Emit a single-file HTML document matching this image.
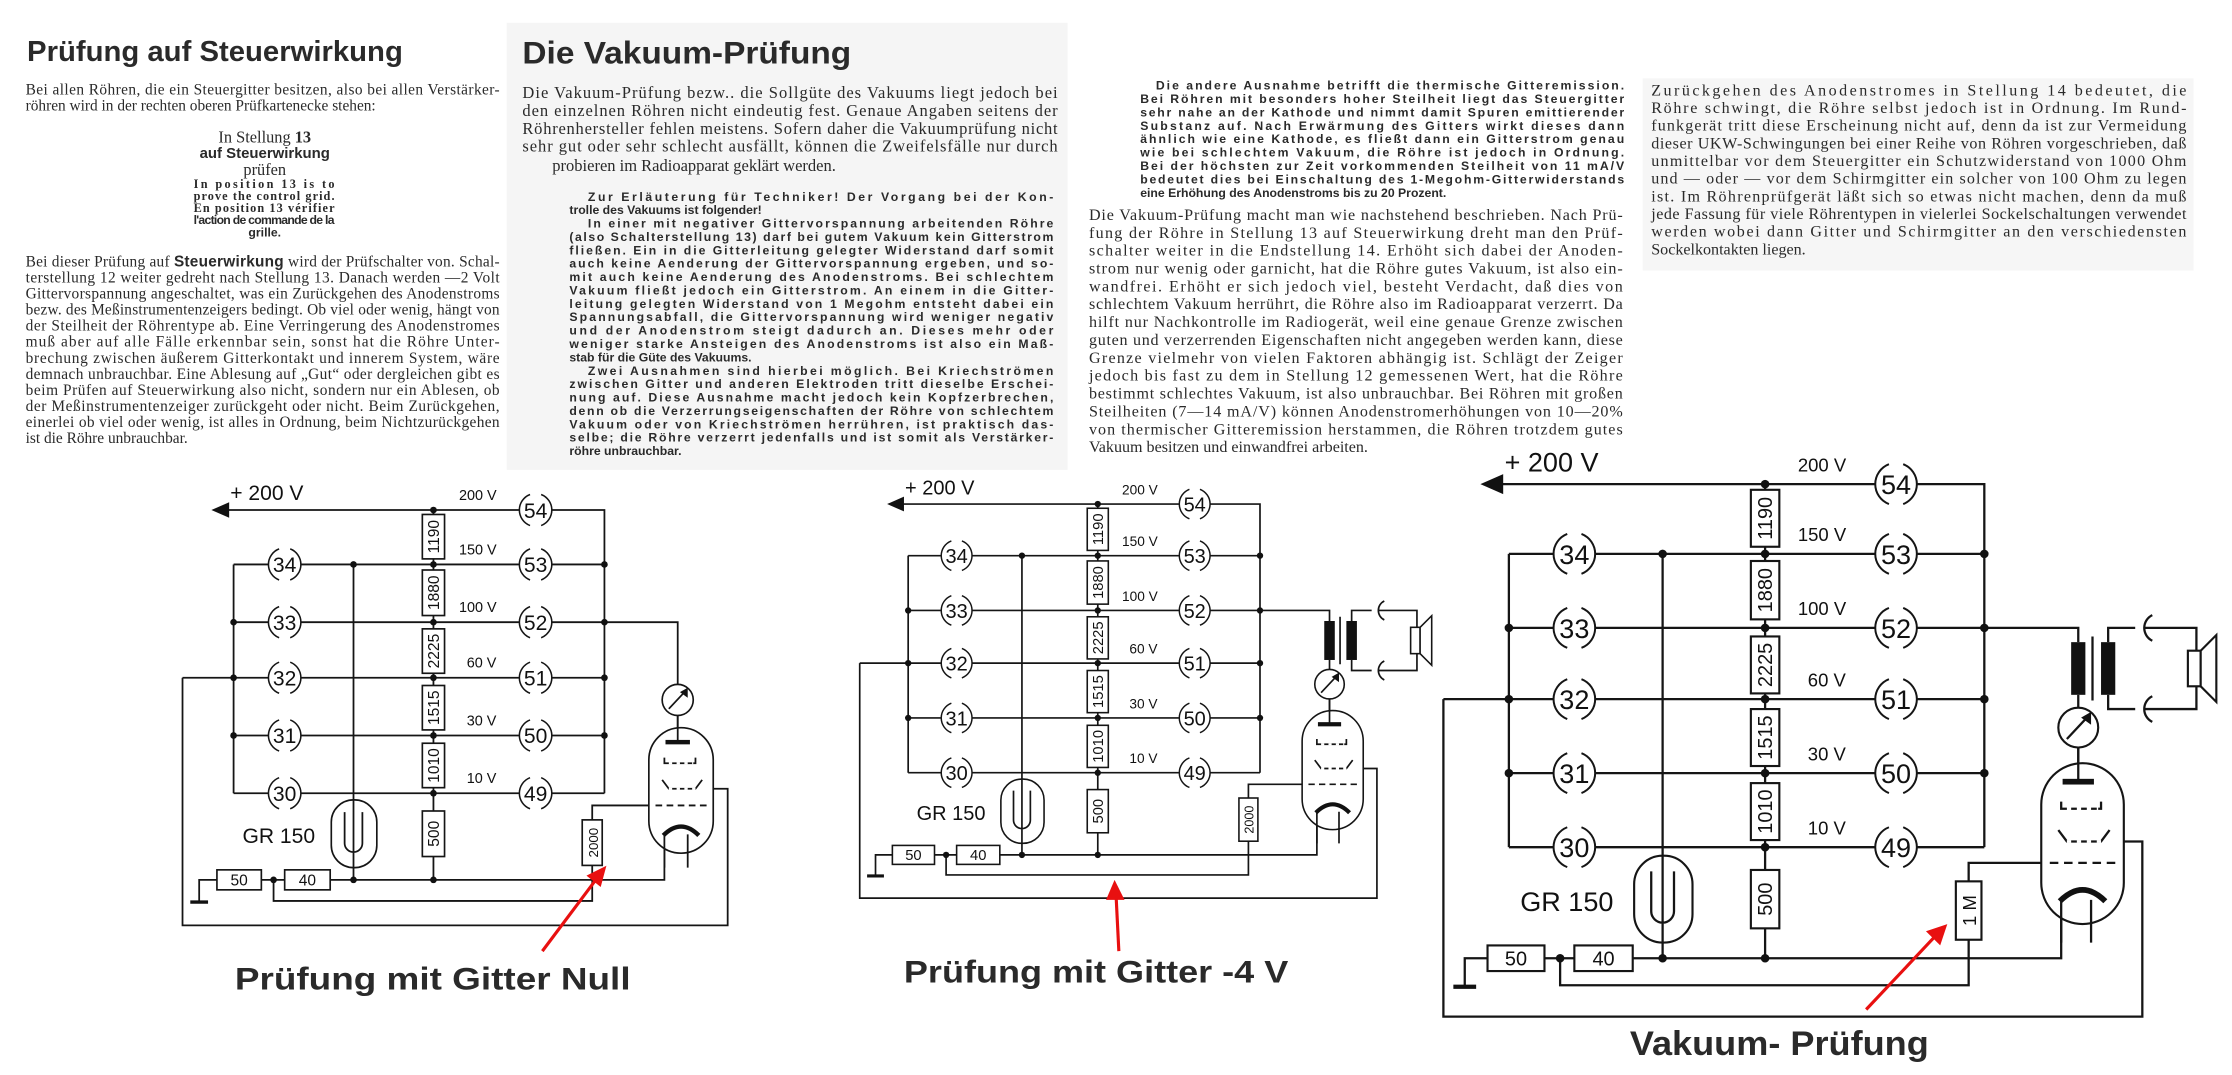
<!DOCTYPE html>
<html><head><meta charset="utf-8"><style>
html,body{margin:0;padding:0;background:#fff;}
svg{display:block}
.w{fill:none;stroke:#151515;stroke-width:1.6}
.n{fill:none;stroke:#151515;stroke-width:1.4}
.sr{font-family:"Liberation Serif",serif;fill:#2a2a2a}
.sb{font-family:"Liberation Sans",sans-serif;font-weight:bold;fill:#2a2a2a}
.lb{font-family:"Liberation Sans",sans-serif;fill:#111}
</style></head><body>
<svg width="2232" height="1075" viewBox="0 0 1568 755" preserveAspectRatio="none" xmlns="http://www.w3.org/2000/svg">
<rect x="0" y="0" width="1568" height="755" fill="#fff"/>
<rect x="356" y="16" width="394" height="314" fill="#f5f5f5"/>
<rect x="1154" y="55" width="387" height="135" fill="#f6f6f6"/>

<!-- Column 1 -->
<text class="sb" x="19" y="43" font-size="20" textLength="264" lengthAdjust="spacingAndGlyphs" fill="#333">Prüfung auf Steuerwirkung</text>
<g class="sr" font-size="10.8">
<text x="18" y="66.5" textLength="333" lengthAdjust="spacing">Bei allen Röhren, die ein Steuergitter besitzen, also bei allen Verstärker-</text>
<text x="18" y="77.5">röhren wird in der rechten oberen Prüfkartenecke stehen:</text>
</g>
<g text-anchor="middle">
<text class="sr" x="186" y="100" font-size="11.5">In Stellung <tspan font-weight="bold">13</tspan></text>
<text class="sb" x="186" y="111" font-size="10.5">auf Steuerwirkung</text>
<text class="sr" x="186" y="123" font-size="11.5">prüfen</text>
</g>
<g class="sr" font-size="8.6" font-weight="bold">
<text x="136" y="132" textLength="99" lengthAdjust="spacing">In position 13 is to</text>
<text x="136" y="140.5" textLength="99" lengthAdjust="spacing">prove the control grid.</text>
<text x="136" y="149" textLength="99" lengthAdjust="spacing">En position 13 vérifier</text>
<text x="136" y="157.5" textLength="99" lengthAdjust="spacing" font-family="Liberation Sans">l'action de commande de la</text>
<text x="186" y="166" text-anchor="middle" font-family="Liberation Sans">grille.</text>
</g>
<g class="sr" font-size="10.8">
<text x="18" y="187" textLength="333" lengthAdjust="spacing">Bei dieser Prüfung auf <tspan class="sb">Steuerwirkung</tspan> wird der Prüfschalter von. Schal-</text>
<text x="18" y="198.3" textLength="333" lengthAdjust="spacing">terstellung 12 weiter gedreht nach Stellung 13. Danach werden —2 Volt</text>
<text x="18" y="209.6" textLength="333" lengthAdjust="spacing">Gittervorspannung angeschaltet, was ein Zurückgehen des Anodenstroms</text>
<text x="18" y="220.9" textLength="333" lengthAdjust="spacing">bezw. des Meßinstrumentenzeigers bedingt. Ob viel oder wenig, hängt von</text>
<text x="18" y="232.2" textLength="333" lengthAdjust="spacing">der Steilheit der Röhrentype ab. Eine Verringerung des Anodenstromes</text>
<text x="18" y="243.5" textLength="333" lengthAdjust="spacing">muß aber auf alle Fälle erkennbar sein, sonst hat die Röhre Unter-</text>
<text x="18" y="254.8" textLength="333" lengthAdjust="spacing">brechung zwischen äußerem Gitterkontakt und innerem System, wäre</text>
<text x="18" y="266.1" textLength="333" lengthAdjust="spacing">demnach unbrauchbar. Eine Ablesung auf „Gut“ oder dergleichen gibt es</text>
<text x="18" y="277.4" textLength="333" lengthAdjust="spacing">beim Prüfen auf Steuerwirkung also nicht, sondern nur ein Ablesen, ob</text>
<text x="18" y="288.7" textLength="333" lengthAdjust="spacing">der Meßinstrumentenzeiger zurückgeht oder nicht. Beim Zurückgehen,</text>
<text x="18" y="300" textLength="333" lengthAdjust="spacing">einerlei ob viel oder wenig, ist alles in Ordnung, beim Nichtzurückgehen</text>
<text x="18" y="311.3">ist die Röhre unbrauchbar.</text>
</g>

<!-- Column 2 -->
<text class="sb" x="367" y="44.5" font-size="22" textLength="231" lengthAdjust="spacingAndGlyphs" fill="#333">Die Vakuum-Prüfung</text>
<g class="sr" font-size="11.6">
<text x="367" y="69" textLength="376" lengthAdjust="spacing">Die Vakuum-Prüfung bezw.. die Sollgüte des Vakuums liegt jedoch bei</text>
<text x="367" y="81.5" textLength="376" lengthAdjust="spacing">den einzelnen Röhren nicht eindeutig fest. Genaue Angaben seitens der</text>
<text x="367" y="94" textLength="376" lengthAdjust="spacing">Röhrenhersteller fehlen meistens. Sofern daher die Vakuumprüfung nicht</text>
<text x="367" y="106.5" textLength="376" lengthAdjust="spacing">sehr gut oder sehr schlecht ausfällt, können die Zweifelsfälle nur durch</text>
<text x="388" y="120">probieren im Radioapparat geklärt werden.</text>
</g>
<g class="sb" font-size="8.6">
<text x="413" y="141" textLength="327" lengthAdjust="spacing">Zur Erläuterung für Techniker! Der Vorgang bei der Kon-</text>
<text x="400" y="150.4">trolle des Vakuums ist folgender!</text>
<text x="413" y="159.8" textLength="327" lengthAdjust="spacing">In einer mit negativer Gittervorspannung arbeitenden Röhre</text>
<text x="400" y="169.2" textLength="340" lengthAdjust="spacing">(also Schalterstellung 13) darf bei gutem Vakuum kein Gitterstrom</text>
<text x="400" y="178.6" textLength="340" lengthAdjust="spacing">fließen. Ein in die Gitterleitung gelegter Widerstand darf somit</text>
<text x="400" y="188" textLength="340" lengthAdjust="spacing">auch keine Aenderung der Gittervorspannung ergeben, und so-</text>
<text x="400" y="197.4" textLength="340" lengthAdjust="spacing">mit auch keine Aenderung des Anodenstroms. Bei schlechtem</text>
<text x="400" y="206.8" textLength="340" lengthAdjust="spacing">Vakuum fließt jedoch ein Gitterstrom. An einem in die Gitter-</text>
<text x="400" y="216.2" textLength="340" lengthAdjust="spacing">leitung gelegten Widerstand von 1 Megohm entsteht dabei ein</text>
<text x="400" y="225.6" textLength="340" lengthAdjust="spacing">Spannungsabfall, die Gittervorspannung wird weniger negativ</text>
<text x="400" y="235" textLength="340" lengthAdjust="spacing">und der Anodenstrom steigt dadurch an. Dieses mehr oder</text>
<text x="400" y="244.4" textLength="340" lengthAdjust="spacing">weniger starke Ansteigen des Anodenstroms ist also ein Maß-</text>
<text x="400" y="253.8">stab für die Güte des Vakuums.</text>
<text x="413" y="263.2" textLength="327" lengthAdjust="spacing">Zwei Ausnahmen sind hierbei möglich. Bei Kriechströmen</text>
<text x="400" y="272.6" textLength="340" lengthAdjust="spacing">zwischen Gitter und anderen Elektroden tritt dieselbe Erschei-</text>
<text x="400" y="282" textLength="340" lengthAdjust="spacing">nung auf. Diese Ausnahme macht jedoch kein Kopfzerbrechen,</text>
<text x="400" y="291.4" textLength="340" lengthAdjust="spacing">denn ob die Verzerrungseigenschaften der Röhre von schlechtem</text>
<text x="400" y="300.8" textLength="340" lengthAdjust="spacing">Vakuum oder von Kriechströmen herrühren, ist praktisch das-</text>
<text x="400" y="310.2" textLength="340" lengthAdjust="spacing">selbe; die Röhre verzerrt jedenfalls und ist somit als Verstärker-</text>
<text x="400" y="319.6">röhre unbrauchbar.</text>
</g>

<!-- Column 3 -->
<g class="sb" font-size="8.6">
<text x="812" y="63" textLength="329" lengthAdjust="spacing">Die andere Ausnahme betrifft die thermische Gitteremission.</text>
<text x="801" y="72.4" textLength="340" lengthAdjust="spacing">Bei Röhren mit besonders hoher Steilheit liegt das Steuergitter</text>
<text x="801" y="81.8" textLength="340" lengthAdjust="spacing">sehr nahe an der Kathode und nimmt damit Spuren emittierender</text>
<text x="801" y="91.2" textLength="340" lengthAdjust="spacing">Substanz auf. Nach Erwärmung des Gitters wirkt dieses dann</text>
<text x="801" y="100.6" textLength="340" lengthAdjust="spacing">ähnlich wie eine Kathode, es fließt dann ein Gitterstrom genau</text>
<text x="801" y="110" textLength="340" lengthAdjust="spacing">wie bei schlechtem Vakuum, die Röhre ist jedoch in Ordnung.</text>
<text x="801" y="119.4" textLength="340" lengthAdjust="spacing">Bei der höchsten zur Zeit vorkommenden Steilheit von 11 mA/V</text>
<text x="801" y="128.8" textLength="340" lengthAdjust="spacing">bedeutet dies bei Einschaltung des 1-Megohm-Gitterwiderstands</text>
<text x="801" y="138.2">eine Erhöhung des Anodenstroms bis zu 20 Prozent.</text>
</g>
<g class="sr" font-size="11.3">
<text x="765" y="154.5" textLength="375" lengthAdjust="spacing">Die Vakuum-Prüfung macht man wie nachstehend beschrieben. Nach Prü-</text>
<text x="765" y="167" textLength="375" lengthAdjust="spacing">fung der Röhre in Stellung 13 auf Steuerwirkung dreht man den Prüf-</text>
<text x="765" y="179.6" textLength="375" lengthAdjust="spacing">schalter weiter in die Endstellung 14. Erhöht sich dabei der Anoden-</text>
<text x="765" y="192.1" textLength="375" lengthAdjust="spacing">strom nur wenig oder garnicht, hat die Röhre gutes Vakuum, ist also ein-</text>
<text x="765" y="204.7" textLength="375" lengthAdjust="spacing">wandfrei. Erhöht er sich jedoch viel, besteht Verdacht, daß dies von</text>
<text x="765" y="217.2" textLength="375" lengthAdjust="spacing">schlechtem Vakuum herrührt, die Röhre also im Radioapparat verzerrt. Da</text>
<text x="765" y="229.7" textLength="375" lengthAdjust="spacing">hilft nur Nachkontrolle im Radiogerät, weil eine genaue Grenze zwischen</text>
<text x="765" y="242.3" textLength="375" lengthAdjust="spacing">guten und verzerrenden Eigenschaften nicht angegeben werden kann, diese</text>
<text x="765" y="254.8" textLength="375" lengthAdjust="spacing">Grenze vielmehr von vielen Faktoren abhängig ist. Schlägt der Zeiger</text>
<text x="765" y="267.4" textLength="375" lengthAdjust="spacing">jedoch bis fast zu dem in Stellung 12 gemessenen Wert, hat die Röhre</text>
<text x="765" y="279.9" textLength="375" lengthAdjust="spacing">bestimmt schlechtes Vakuum, ist also unbrauchbar. Bei Röhren mit großen</text>
<text x="765" y="292.4" textLength="375" lengthAdjust="spacing">Steilheiten (7—14 mA/V) können Anodenstromerhöhungen von 10—20%</text>
<text x="765" y="305" textLength="375" lengthAdjust="spacing">von thermischer Gitteremission herstammen, die Röhren trotzdem gutes</text>
<text x="765" y="317.5">Vakuum besitzen und einwandfrei arbeiten.</text>
</g>

<!-- Column 4 -->
<g class="sr" font-size="11.3">
<text x="1160" y="67" textLength="376" lengthAdjust="spacing">Zurückgehen des Anodenstromes in Stellung 14 bedeutet, die</text>
<text x="1160" y="79.4" textLength="376" lengthAdjust="spacing">Röhre schwingt, die Röhre selbst jedoch ist in Ordnung. Im Rund-</text>
<text x="1160" y="91.8" textLength="376" lengthAdjust="spacing">funkgerät tritt diese Erscheinung nicht auf, denn da ist zur Vermeidung</text>
<text x="1160" y="104.2" textLength="376" lengthAdjust="spacing">dieser UKW-Schwingungen bei einer Reihe von Röhren vorgeschrieben, daß</text>
<text x="1160" y="116.6" textLength="376" lengthAdjust="spacing">unmittelbar vor dem Steuergitter ein Schutzwiderstand von 1000 Ohm</text>
<text x="1160" y="129" textLength="376" lengthAdjust="spacing">und — oder — vor dem Schirmgitter ein solcher von 100 Ohm zu legen</text>
<text x="1160" y="141.4" textLength="376" lengthAdjust="spacing">ist. Im Röhrenprüfgerät läßt sich so etwas nicht machen, denn da muß</text>
<text x="1160" y="153.8" textLength="376" lengthAdjust="spacing">jede Fassung für viele Röhrentypen in vielerlei Sockelschaltungen verwendet</text>
<text x="1160" y="166.2" textLength="376" lengthAdjust="spacing">werden wobei dann Gitter und Schirmgitter an den verschiedensten</text>
<text x="1160" y="178.6">Sockelkontakten liegen.</text>
</g>

<!-- ===== Schematic 1 ===== -->
<g transform="translate(-662.7,93) scale(0.78)">
<path class="w" d="M1042 340H1317 M1347 340H1394V595 M1060 389V595 M1060 389H1091 M1121 389H1317 M1347 389H1394 M1060 441H1091 M1121 441H1317 M1347 441H1394 M1014 491H1091 M1121 491H1317 M1347 491H1394 M1060 543H1091 M1121 543H1317 M1347 543H1394 M1060 595H1091 M1121 595H1317 M1347 595H1394 M1168 389V673 M1240 340V673 M1029 693V673H1045 M1085 673H1106 M1147 673H1448V630 M1096 673V692H1383V660 M1383 619V606H1440 M1014 491V714H1505V591H1480 M1394 441H1460V497 M1460 525V549"/>
<path d="M1021 693H1037" stroke="#111" stroke-width="3"/>
<path class="n" d="M1327 326A15 15 0 0 0 1327 354M1337 326A15 15 0 0 1 1337 354M1327 375A15 15 0 0 0 1327 403M1337 375A15 15 0 0 1 1337 403M1327 427A15 15 0 0 0 1327 455M1337 427A15 15 0 0 1 1337 455M1327 477A15 15 0 0 0 1327 505M1337 477A15 15 0 0 1 1337 505M1327 529A15 15 0 0 0 1327 557M1337 529A15 15 0 0 1 1337 557M1327 581A15 15 0 0 0 1327 609M1337 581A15 15 0 0 1 1337 609M1101 375A15 15 0 0 0 1101 403M1111 375A15 15 0 0 1 1111 403M1101 427A15 15 0 0 0 1101 455M1111 427A15 15 0 0 1 1111 455M1101 477A15 15 0 0 0 1101 505M1111 477A15 15 0 0 1 1111 505M1101 529A15 15 0 0 0 1101 557M1111 529A15 15 0 0 1 1111 557M1101 581A15 15 0 0 0 1101 609M1111 581A15 15 0 0 1 1111 609"/>
<g class="lb" font-size="19" text-anchor="middle"><text x="1332" y="347">54</text><text x="1332" y="396">53</text><text x="1332" y="448">52</text><text x="1332" y="498">51</text><text x="1332" y="550">50</text><text x="1332" y="602">49</text><text x="1106" y="396">34</text><text x="1106" y="448">33</text><text x="1106" y="498">32</text><text x="1106" y="550">31</text><text x="1106" y="602">30</text></g>
<g class="lb" font-size="13"><text x="1263" y="331">200 V</text><text x="1263" y="380">150 V</text><text x="1263" y="432">100 V</text><text x="1270" y="482">60 V</text><text x="1270" y="534">30 V</text><text x="1270" y="586">10 V</text></g>
<text class="lb" x="1057" y="331" font-size="19">+ 200 V</text>
<polygon points="1040,340 1056,333 1056,347" fill="#111"/>
<g fill="#fff" stroke="#151515" stroke-width="1.5"><rect x="1230" y="344" width="20" height="40"/><rect x="1230" y="394" width="20" height="41"/><rect x="1230" y="447" width="20" height="40"/><rect x="1230" y="498" width="20" height="40"/><rect x="1230" y="550" width="20" height="40"/><rect x="1230" y="611" width="20" height="41"/><rect x="1045" y="664" width="40" height="18"/><rect x="1106" y="664" width="41" height="18"/><rect x="1374" y="619" width="18" height="41"/><rect x="1148" y="601" width="41" height="61" rx="20"/><rect x="1434" y="536" width="58" height="113" rx="29"/><circle cx="1460" cy="511" r="14"/></g>
<g class="lb" font-size="14" text-anchor="middle"><text transform="translate(1245,364) rotate(-90)">1190</text><text transform="translate(1245,414.5) rotate(-90)">1880</text><text transform="translate(1245,467) rotate(-90)">2225</text><text transform="translate(1245,518) rotate(-90)">1515</text><text transform="translate(1245,570) rotate(-90)">1010</text><text transform="translate(1245,631.5) rotate(-90)">500</text><text x="1065" y="678">50</text><text x="1126.5" y="678">40</text><text transform="translate(1388,639.5) rotate(-90)" font-size="12">2000</text></g>
<text class="lb" x="1068" y="640" font-size="19">GR 150</text>
<path class="w" d="M1160 612V640A8 8 0 0 0 1176 640V612 M1168 601V662 M1446 583L1452 591H1476L1482 583 M1448 563V568H1476V563"/>
<path d="M1452 568H1474 M1452 591H1476 M1440 606H1486" stroke="#fff" stroke-width="2" stroke-dasharray="3 4"/>
<path d="M1440 606H1486" stroke="#151515" stroke-width="1.6" stroke-dasharray="6 4"/>
<path d="M1447 633Q1463 617 1479 633" fill="none" stroke="#111" stroke-width="4"/>
<path class="w" d="M1448 632V662 M1469 632V662 M1460 525V549 M1452 519L1467 503"/>
<rect x="1449" y="547" width="22" height="4" fill="#111"/>
<polygon points="1469,500 1469,509 1462,504" fill="#111"/>
<g fill="#111"><circle cx="1240" cy="340" r="3"/><circle cx="1168" cy="389" r="3"/><circle cx="1240" cy="389" r="3"/><circle cx="1394" cy="389" r="3"/><circle cx="1060" cy="441" r="3"/><circle cx="1240" cy="441" r="3"/><circle cx="1394" cy="441" r="3"/><circle cx="1060" cy="491" r="3"/><circle cx="1240" cy="491" r="3"/><circle cx="1394" cy="491" r="3"/><circle cx="1060" cy="543" r="3"/><circle cx="1240" cy="543" r="3"/><circle cx="1394" cy="543" r="3"/><circle cx="1240" cy="595" r="3"/><circle cx="1096" cy="673" r="3"/><circle cx="1168" cy="673" r="3"/><circle cx="1240" cy="673" r="3"/></g>
</g>

<!-- ===== Schematic 2 ===== -->
<g transform="translate(-146.4,102.4) scale(0.74)">
<path class="w" d="M1042 340H1317 M1347 340H1394V595 M1060 389V595 M1060 389H1091 M1121 389H1317 M1347 389H1394 M1060 441H1091 M1121 441H1317 M1347 441H1394 M1014 491H1091 M1121 491H1317 M1347 491H1394 M1060 543H1091 M1121 543H1317 M1347 543H1394 M1060 595H1091 M1121 595H1317 M1347 595H1394 M1168 389V673 M1240 340V673 M1029 693V673H1045 M1085 673H1106 M1147 673H1448V630 M1096 673V692H1383V660 M1383 619V606H1440 M1014 491V714H1505V591H1480 M1394 441H1460V451 M1460 488V497 M1460 525V549 M1470 447V492 M1481 451V441H1500 M1481 488V498H1500 M1506 441H1543V457 M1506 498H1543V482"/>
<path class="w" d="M1512 432A10 10 0 0 0 1512 450 M1512 489A10 10 0 0 0 1512 507"/>
<rect x="1537" y="457" width="9" height="25" fill="#fff" stroke="#151515" stroke-width="1.5"/>
<polygon points="1546,457 1557,446 1557,493 1546,482" fill="#fff" stroke="#151515" stroke-width="1.5"/>
<rect x="1455" y="451" width="10" height="37" fill="#111"/><rect x="1476" y="451" width="10" height="37" fill="#111"/>
<path d="M1021 693H1037" stroke="#111" stroke-width="3"/>
<path class="n" d="M1327 326A15 15 0 0 0 1327 354M1337 326A15 15 0 0 1 1337 354M1327 375A15 15 0 0 0 1327 403M1337 375A15 15 0 0 1 1337 403M1327 427A15 15 0 0 0 1327 455M1337 427A15 15 0 0 1 1337 455M1327 477A15 15 0 0 0 1327 505M1337 477A15 15 0 0 1 1337 505M1327 529A15 15 0 0 0 1327 557M1337 529A15 15 0 0 1 1337 557M1327 581A15 15 0 0 0 1327 609M1337 581A15 15 0 0 1 1337 609M1101 375A15 15 0 0 0 1101 403M1111 375A15 15 0 0 1 1111 403M1101 427A15 15 0 0 0 1101 455M1111 427A15 15 0 0 1 1111 455M1101 477A15 15 0 0 0 1101 505M1111 477A15 15 0 0 1 1111 505M1101 529A15 15 0 0 0 1101 557M1111 529A15 15 0 0 1 1111 557M1101 581A15 15 0 0 0 1101 609M1111 581A15 15 0 0 1 1111 609"/>
<g class="lb" font-size="19" text-anchor="middle"><text x="1332" y="347">54</text><text x="1332" y="396">53</text><text x="1332" y="448">52</text><text x="1332" y="498">51</text><text x="1332" y="550">50</text><text x="1332" y="602">49</text><text x="1106" y="396">34</text><text x="1106" y="448">33</text><text x="1106" y="498">32</text><text x="1106" y="550">31</text><text x="1106" y="602">30</text></g>
<g class="lb" font-size="13"><text x="1263" y="331">200 V</text><text x="1263" y="380">150 V</text><text x="1263" y="432">100 V</text><text x="1270" y="482">60 V</text><text x="1270" y="534">30 V</text><text x="1270" y="586">10 V</text></g>
<text class="lb" x="1057" y="331" font-size="19">+ 200 V</text>
<polygon points="1040,340 1056,333 1056,347" fill="#111"/>
<g fill="#fff" stroke="#151515" stroke-width="1.5"><rect x="1230" y="344" width="20" height="40"/><rect x="1230" y="394" width="20" height="41"/><rect x="1230" y="447" width="20" height="40"/><rect x="1230" y="498" width="20" height="40"/><rect x="1230" y="550" width="20" height="40"/><rect x="1230" y="611" width="20" height="41"/><rect x="1045" y="664" width="40" height="18"/><rect x="1106" y="664" width="41" height="18"/><rect x="1374" y="619" width="18" height="41"/><rect x="1148" y="601" width="41" height="61" rx="20"/><rect x="1434" y="536" width="58" height="113" rx="29"/><circle cx="1460" cy="511" r="14"/></g>
<g class="lb" font-size="14" text-anchor="middle"><text transform="translate(1245,364) rotate(-90)">1190</text><text transform="translate(1245,414.5) rotate(-90)">1880</text><text transform="translate(1245,467) rotate(-90)">2225</text><text transform="translate(1245,518) rotate(-90)">1515</text><text transform="translate(1245,570) rotate(-90)">1010</text><text transform="translate(1245,631.5) rotate(-90)">500</text><text x="1065" y="678">50</text><text x="1126.5" y="678">40</text><text transform="translate(1388,639.5) rotate(-90)" font-size="12">2000</text></g>
<text class="lb" x="1068" y="640" font-size="19">GR 150</text>
<path class="w" d="M1160 612V640A8 8 0 0 0 1176 640V612 M1168 601V662 M1446 583L1452 591H1476L1482 583 M1448 563V568H1476V563"/>
<path d="M1452 568H1474 M1452 591H1476 M1440 606H1486" stroke="#fff" stroke-width="2" stroke-dasharray="3 4"/>
<path d="M1440 606H1486" stroke="#151515" stroke-width="1.6" stroke-dasharray="6 4"/>
<path d="M1447 633Q1463 617 1479 633" fill="none" stroke="#111" stroke-width="4"/>
<path class="w" d="M1448 632V662 M1469 632V662 M1460 525V549 M1452 519L1467 503"/>
<rect x="1449" y="547" width="22" height="4" fill="#111"/>
<polygon points="1469,500 1469,509 1462,504" fill="#111"/>
<g fill="#111"><circle cx="1240" cy="340" r="3"/><circle cx="1168" cy="389" r="3"/><circle cx="1240" cy="389" r="3"/><circle cx="1394" cy="389" r="3"/><circle cx="1060" cy="441" r="3"/><circle cx="1240" cy="441" r="3"/><circle cx="1394" cy="441" r="3"/><circle cx="1060" cy="491" r="3"/><circle cx="1240" cy="491" r="3"/><circle cx="1394" cy="491" r="3"/><circle cx="1060" cy="543" r="3"/><circle cx="1240" cy="543" r="3"/><circle cx="1394" cy="543" r="3"/><circle cx="1240" cy="595" r="3"/><circle cx="1096" cy="673" r="3"/><circle cx="1168" cy="673" r="3"/><circle cx="1240" cy="673" r="3"/></g>
</g>

<!-- ===== Schematic 3 ===== -->
<g>
<path class="w" d="M1042 340H1317 M1347 340H1394V595 M1060 389V595 M1060 389H1091 M1121 389H1317 M1347 389H1394 M1060 441H1091 M1121 441H1317 M1347 441H1394 M1014 491H1091 M1121 491H1317 M1347 491H1394 M1060 543H1091 M1121 543H1317 M1347 543H1394 M1060 595H1091 M1121 595H1317 M1347 595H1394 M1168 389V673 M1240 340V673 M1029 693V673H1045 M1085 673H1106 M1147 673H1448V630 M1096 673V692H1383V660 M1383 619V606H1440 M1014 491V714H1505V591H1480 M1394 441H1460V451 M1460 488V497 M1460 525V549 M1470 447V492 M1481 451V441H1500 M1481 488V498H1500 M1506 441H1543V457 M1506 498H1543V482"/>
<path class="w" d="M1512 432A10 10 0 0 0 1512 450 M1512 489A10 10 0 0 0 1512 507"/>
<rect x="1537" y="457" width="9" height="25" fill="#fff" stroke="#151515" stroke-width="1.5"/>
<polygon points="1546,457 1557,446 1557,493 1546,482" fill="#fff" stroke="#151515" stroke-width="1.5"/>
<rect x="1455" y="451" width="10" height="37" fill="#111"/><rect x="1476" y="451" width="10" height="37" fill="#111"/>
<path d="M1021 693H1037" stroke="#111" stroke-width="3"/>
<path class="n" d="M1327 326A15 15 0 0 0 1327 354M1337 326A15 15 0 0 1 1337 354M1327 375A15 15 0 0 0 1327 403M1337 375A15 15 0 0 1 1337 403M1327 427A15 15 0 0 0 1327 455M1337 427A15 15 0 0 1 1337 455M1327 477A15 15 0 0 0 1327 505M1337 477A15 15 0 0 1 1337 505M1327 529A15 15 0 0 0 1327 557M1337 529A15 15 0 0 1 1337 557M1327 581A15 15 0 0 0 1327 609M1337 581A15 15 0 0 1 1337 609M1101 375A15 15 0 0 0 1101 403M1111 375A15 15 0 0 1 1111 403M1101 427A15 15 0 0 0 1101 455M1111 427A15 15 0 0 1 1111 455M1101 477A15 15 0 0 0 1101 505M1111 477A15 15 0 0 1 1111 505M1101 529A15 15 0 0 0 1101 557M1111 529A15 15 0 0 1 1111 557M1101 581A15 15 0 0 0 1101 609M1111 581A15 15 0 0 1 1111 609"/>
<g class="lb" font-size="19" text-anchor="middle"><text x="1332" y="347">54</text><text x="1332" y="396">53</text><text x="1332" y="448">52</text><text x="1332" y="498">51</text><text x="1332" y="550">50</text><text x="1332" y="602">49</text><text x="1106" y="396">34</text><text x="1106" y="448">33</text><text x="1106" y="498">32</text><text x="1106" y="550">31</text><text x="1106" y="602">30</text></g>
<g class="lb" font-size="13"><text x="1263" y="331">200 V</text><text x="1263" y="380">150 V</text><text x="1263" y="432">100 V</text><text x="1270" y="482">60 V</text><text x="1270" y="534">30 V</text><text x="1270" y="586">10 V</text></g>
<text class="lb" x="1057" y="331" font-size="19">+ 200 V</text>
<polygon points="1040,340 1056,333 1056,347" fill="#111"/>
<g fill="#fff" stroke="#151515" stroke-width="1.5"><rect x="1230" y="344" width="20" height="40"/><rect x="1230" y="394" width="20" height="41"/><rect x="1230" y="447" width="20" height="40"/><rect x="1230" y="498" width="20" height="40"/><rect x="1230" y="550" width="20" height="40"/><rect x="1230" y="611" width="20" height="41"/><rect x="1045" y="664" width="40" height="18"/><rect x="1106" y="664" width="41" height="18"/><rect x="1374" y="619" width="18" height="41"/><rect x="1148" y="601" width="41" height="61" rx="20"/><rect x="1434" y="536" width="58" height="113" rx="29"/><circle cx="1460" cy="511" r="14"/></g>
<g class="lb" font-size="14" text-anchor="middle"><text transform="translate(1245,364) rotate(-90)">1190</text><text transform="translate(1245,414.5) rotate(-90)">1880</text><text transform="translate(1245,467) rotate(-90)">2225</text><text transform="translate(1245,518) rotate(-90)">1515</text><text transform="translate(1245,570) rotate(-90)">1010</text><text transform="translate(1245,631.5) rotate(-90)">500</text><text x="1065" y="678">50</text><text x="1126.5" y="678">40</text><text transform="translate(1388,639.5) rotate(-90)" font-size="13">1 M</text></g>
<text class="lb" x="1068" y="640" font-size="19">GR 150</text>
<path class="w" d="M1160 612V640A8 8 0 0 0 1176 640V612 M1168 601V662 M1446 583L1452 591H1476L1482 583 M1448 563V568H1476V563"/>
<path d="M1452 568H1474 M1452 591H1476 M1440 606H1486" stroke="#fff" stroke-width="2" stroke-dasharray="3 4"/>
<path d="M1440 606H1486" stroke="#151515" stroke-width="1.6" stroke-dasharray="6 4"/>
<path d="M1447 633Q1463 617 1479 633" fill="none" stroke="#111" stroke-width="4"/>
<path class="w" d="M1448 632V662 M1469 632V662 M1460 525V549 M1452 519L1467 503"/>
<rect x="1449" y="547" width="22" height="4" fill="#111"/>
<polygon points="1469,500 1469,509 1462,504" fill="#111"/>
<g fill="#111"><circle cx="1240" cy="340" r="3"/><circle cx="1168" cy="389" r="3"/><circle cx="1240" cy="389" r="3"/><circle cx="1394" cy="389" r="3"/><circle cx="1060" cy="441" r="3"/><circle cx="1240" cy="441" r="3"/><circle cx="1394" cy="441" r="3"/><circle cx="1060" cy="491" r="3"/><circle cx="1240" cy="491" r="3"/><circle cx="1394" cy="491" r="3"/><circle cx="1060" cy="543" r="3"/><circle cx="1240" cy="543" r="3"/><circle cx="1394" cy="543" r="3"/><circle cx="1240" cy="595" r="3"/><circle cx="1096" cy="673" r="3"/><circle cx="1168" cy="673" r="3"/><circle cx="1240" cy="673" r="3"/></g>
</g>

<!-- Red arrows -->
<g stroke="#e81010" stroke-width="2.2" fill="none">
<path d="M381 668L420 616"/><path d="M786 668L784 628"/><path d="M1311 709L1360 657"/>
</g>
<g fill="#e81010">
<polygon points="426,608 412,615 422,623"/>
<polygon points="783,618 777,632 790,632"/>
<polygon points="1368,649 1353,654 1363,664"/>
</g>

<!-- Captions -->
<text class="sb" x="165" y="695" font-size="22" fill="#111" textLength="278" lengthAdjust="spacingAndGlyphs">Prüfung mit Gitter Null</text>
<text class="sb" x="635" y="690" font-size="22" fill="#111" textLength="270" lengthAdjust="spacingAndGlyphs">Prüfung mit Gitter -4 V</text>
<text class="sb" x="1145" y="741" font-size="24" fill="#111" textLength="210" lengthAdjust="spacingAndGlyphs">Vakuum- Prüfung</text>
</svg>
</body></html>
